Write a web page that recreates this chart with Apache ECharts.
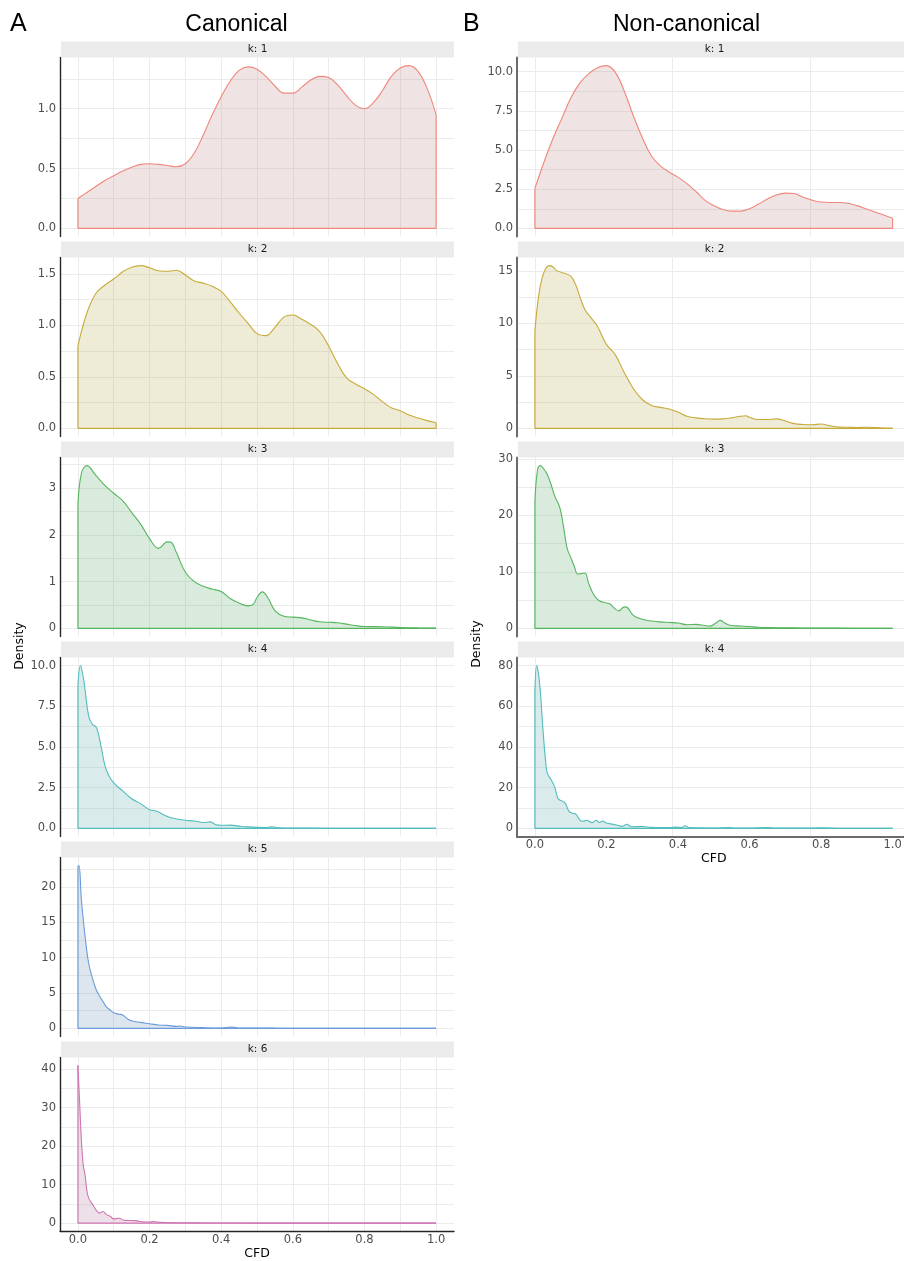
<!DOCTYPE html>
<html><head><meta charset="utf-8">
<script src="https://cdn.jsdelivr.net/npm/echarts@6/dist/echarts.min.js"></script>
<style>html,body{margin:0;padding:0;background:#fff;overflow:hidden}#c{width:912px;height:1261px}</style>
</head><body><div id="c"></div>
<script>
// ---------------- DATA ----------------
const xStep025 = [0,0.025,0.05,0.075,0.1,0.125,0.15,0.175,0.2,0.225,0.25,0.275,0.3,0.325,0.35,0.375,0.4,0.425,0.45,0.475,0.5,0.525,0.55,0.575,0.6,0.625,0.65,0.675,0.7,0.725,0.75,0.775,0.8,0.825,0.85,0.875,0.9,0.925,0.95,0.975,1.0];

// Canonical
const canK1X = xStep025;
const canK1Y = [0.25,0.30,0.35,0.40,0.44,0.48,0.51,0.535,0.54,0.535,0.525,0.515,0.54,0.63,0.78,0.95,1.10,1.23,1.32,1.35,1.33,1.27,1.19,1.13,1.13,1.18,1.24,1.27,1.26,1.20,1.11,1.03,1.00,1.05,1.15,1.27,1.34,1.36,1.31,1.17,0.95];
const canK2X = xStep025;
const canK2Y = [0.80,1.12,1.31,1.39,1.45,1.52,1.565,1.58,1.56,1.53,1.525,1.535,1.49,1.43,1.41,1.38,1.33,1.23,1.12,1.02,0.92,0.90,0.98,1.08,1.10,1.06,1.01,0.94,0.80,0.63,0.49,0.43,0.385,0.33,0.26,0.20,0.17,0.13,0.10,0.075,0.055];
const canK3X = [0,0.01,0.025,0.05,0.075,0.1,0.125,0.15,0.175,0.2,0.225,0.25,0.26,0.275,0.3,0.325,0.35,0.375,0.4,0.425,0.45,0.475,0.49,0.5,0.515,0.53,0.55,0.575,0.6,0.625,0.65,0.675,0.7,0.725,0.75,0.775,0.8,0.85,0.9,0.95,1.0];
const canK3Y = [2.64,3.32,3.48,3.27,3.06,2.89,2.73,2.48,2.23,1.92,1.71,1.85,1.84,1.62,1.20,1.00,0.90,0.84,0.79,0.64,0.54,0.48,0.52,0.66,0.78,0.66,0.38,0.26,0.24,0.225,0.18,0.14,0.13,0.12,0.09,0.06,0.04,0.035,0.02,0.01,0.005];
const canK4X = [0,0.007,0.015,0.02,0.03,0.04,0.05,0.055,0.065,0.075,0.085,0.1,0.125,0.15,0.175,0.2,0.22,0.25,0.275,0.3,0.325,0.35,0.37,0.385,0.4,0.425,0.45,0.475,0.5,0.525,0.54,0.56,0.6,0.7,0.8,0.9,1.0];
const canK4Y = [8.8,10.0,9.3,8.5,6.9,6.4,6.25,6.0,5.0,3.9,3.3,2.8,2.3,1.82,1.52,1.15,1.05,0.73,0.58,0.50,0.45,0.36,0.40,0.22,0.19,0.20,0.14,0.09,0.06,0.05,0.09,0.04,0.02,0.01,0.005,0.004,0.003];
const canK5X = [0,0.003,0.01,0.02,0.03,0.04,0.05,0.06,0.07,0.08,0.09,0.1,0.115,0.125,0.14,0.155,0.175,0.2,0.225,0.25,0.275,0.285,0.3,0.35,0.4,0.43,0.45,0.5,0.55,0.6,0.7,0.8,0.9,1.0];
const canK5Y = [22.9,23.0,18.0,13.0,9.2,7.2,5.6,4.6,3.8,3.0,2.6,2.2,2.0,1.9,1.3,1.0,0.85,0.65,0.48,0.42,0.28,0.33,0.19,0.1,0.06,0.18,0.05,0.05,0.03,0.02,0.015,0.01,0.01,0.01];
const canK6X = [0,0.005,0.01,0.015,0.02,0.025,0.03,0.04,0.05,0.06,0.07,0.08,0.09,0.1,0.115,0.13,0.16,0.18,0.2,0.21,0.23,0.25,0.3,0.35,0.4,0.5,0.6,0.8,1.0];
const canK6Y = [41.0,31.0,21.0,15.0,12.5,8.5,6.5,5.0,3.5,2.6,3.0,2.2,1.8,1.1,1.25,0.7,0.65,0.35,0.25,0.4,0.2,0.15,0.08,0.04,0.02,0.01,0.01,0.005,0.005];

// Non-canonical
const nonK1X = xStep025;
const nonK1Y = [2.54,4.2,5.7,7.0,8.3,9.25,9.85,10.25,10.38,9.95,8.75,7.2,5.8,4.65,4.0,3.6,3.27,2.85,2.35,1.8,1.45,1.2,1.1,1.1,1.25,1.55,1.87,2.13,2.25,2.22,1.98,1.8,1.68,1.65,1.65,1.6,1.45,1.25,1.05,0.85,0.64];
const nonK2X = [0,0.01,0.02,0.03,0.04,0.05,0.06,0.075,0.1,0.115,0.125,0.14,0.16,0.175,0.2,0.225,0.25,0.275,0.3,0.325,0.35,0.375,0.4,0.425,0.45,0.475,0.5,0.525,0.55,0.575,0.59,0.6,0.625,0.65,0.675,0.7,0.725,0.75,0.775,0.8,0.825,0.85,0.875,0.9,0.925,0.95,0.975,1.0];
const nonK2Y = [9.3,12.5,14.3,15.2,15.5,15.4,15.05,14.85,14.5,13.6,12.6,11.3,10.4,9.7,8.0,7.0,5.3,3.8,2.75,2.2,2.0,1.85,1.55,1.15,1.0,0.92,0.88,0.9,1.0,1.15,1.2,1.05,0.85,0.85,0.9,0.7,0.45,0.37,0.35,0.41,0.25,0.12,0.1,0.08,0.1,0.08,0.03,0.01];
const nonK3X = [0,0.007,0.015,0.025,0.035,0.045,0.055,0.07,0.08,0.09,0.1,0.11,0.12,0.13,0.14,0.15,0.165,0.18,0.2,0.21,0.225,0.235,0.25,0.26,0.275,0.3,0.325,0.35,0.375,0.4,0.425,0.45,0.475,0.49,0.505,0.518,0.53,0.545,0.575,0.6,0.625,0.65,0.7,0.75,0.8,0.9,1.0];
const nonK3Y = [22.3,27.9,28.8,28.2,27.2,25.5,23.5,21.3,18.0,14.2,12.6,11.0,9.6,9.7,9.8,8.0,5.9,4.9,4.5,4.3,3.4,3.1,3.8,3.6,2.3,1.6,1.3,1.15,1.05,0.95,0.65,0.7,0.5,0.4,0.9,1.42,1.0,0.55,0.42,0.33,0.2,0.14,0.1,0.07,0.05,0.03,0.01];
const nonK4X = [0,0.005,0.01,0.015,0.02,0.025,0.03,0.035,0.045,0.055,0.065,0.075,0.085,0.095,0.105,0.115,0.125,0.135,0.145,0.16,0.172,0.18,0.19,0.2,0.225,0.245,0.257,0.27,0.3,0.325,0.35,0.375,0.395,0.41,0.42,0.43,0.45,0.5,0.545,0.56,0.6,0.65,0.67,0.75,0.8,0.85,0.9,1.0];
const nonK4Y = [67,80,76,68,55,43,33,27,24,20.5,14.5,13.5,12.3,8.5,7.4,7.0,4.2,3.5,4.0,2.8,4.0,2.9,3.6,2.6,1.8,1.0,2.0,0.8,0.9,0.5,0.35,0.4,0.6,0.4,1.3,0.4,0.3,0.2,0.45,0.2,0.15,0.4,0.15,0.1,0.25,0.08,0.05,0.03];

// Tick labels
const cfdTicks = [0,0.2,0.4,0.6,0.8,1.0];
const nonGridX = [0,0.385,0.77];
const canK1Ticks = [0,0.5,1.0];
const canK2Ticks = [0,0.5,1.0,1.5];
const canK3Ticks = [0,1,2,3];
const canK4Ticks = [0,2.5,5,7.5,10];
const canK5Ticks = [0,5,10,15,20];
const canK6Ticks = [0,10,20,30,40];
const nonK1Ticks = [0,2.5,5,7.5,10];
const nonK2Ticks = [0,5,10,15];
const nonK3Ticks = [0,10,20,30];
const nonK4Ticks = [0,20,40,60,80];

const panels = [
  {col:0,row:0,k:1,x:canK1X,y:canK1Y,ticks:canK1Ticks,dec:1},
  {col:0,row:1,k:2,x:canK2X,y:canK2Y,ticks:canK2Ticks,dec:1},
  {col:0,row:2,k:3,x:canK3X,y:canK3Y,ticks:canK3Ticks,dec:0},
  {col:0,row:3,k:4,x:canK4X,y:canK4Y,ticks:canK4Ticks,dec:1},
  {col:0,row:4,k:5,x:canK5X,y:canK5Y,ticks:canK5Ticks,dec:0},
  {col:0,row:5,k:6,x:canK6X,y:canK6Y,ticks:canK6Ticks,dec:0,bottom:true},
  {col:1,row:0,k:1,x:nonK1X,y:nonK1Y,ticks:nonK1Ticks,dec:1},
  {col:1,row:1,k:2,x:nonK2X,y:nonK2Y,ticks:nonK2Ticks,dec:0},
  {col:1,row:2,k:3,x:nonK3X,y:nonK3Y,ticks:nonK3Ticks,dec:0},
  {col:1,row:3,k:4,x:nonK4X,y:nonK4Y,ticks:nonK4Ticks,dec:0,bottom:true}
];

// ---------------- STYLE ----------------
const lineColors = ['#EF877C','#C8AA38','#55B55E','#52BCBE','#6A9BDA','#CF74B3'];
const fillColors = ['rgba(198,153,153,0.4)','rgba(193,188,108,0.4)','rgba(118,183,128,0.4)','rgba(118,183,183,0.4)','rgba(133,165,198,0.4)','rgba(193,143,173,0.4)'];
const FONT = 'DejaVu Sans';
const cols = [
  {left:60, width:394, stripW:393, axisColor:'#262626', axisWidth:1.4, labelMargin:4},
  {left:517, width:393.5, stripW:393, axisColor:'#6b6b6b', axisWidth:2, labelMargin:4}
];
const TOP0 = 57.5, PITCH = 200, PH = 179, STRIPH = 16;

function midGrid(t, lo, hi){
  const step = t[1]-t[0];
  const out = [];
  t.forEach(v=>{out.push(v); out.push(+(v+step/2).toFixed(6));});
  return out.filter(v=>v>=lo-1e-9 && v<=hi+1e-9);
}

const grids=[], xAxes=[], yAxes=[], series=[], graphics=[];
panels.forEach((p,i)=>{
  const c = cols[p.col];
  const top = TOP0 + PITCH*p.row;
  grids.push({left:c.left, top:top, width:c.width, height:PH});
  const ymax = Math.max(...p.y);
  const lo = -0.05*ymax, hi = 1.05*ymax;
  const xGrid = p.col===0 ? midGrid(cfdTicks, 0, 1) : nonGridX;
  xAxes.push({
    type:'value', gridIndex:i, min:-0.05, max:1.05,
    axisLine:{show:!!p.bottom, onZero:false, lineStyle:{color:c.axisColor, width:c.axisWidth}},
    axisTick:{show:false, customValues:xGrid},
    axisLabel:{show:!!p.bottom, customValues:cfdTicks, formatter:v=>v.toFixed(1), margin:3, fontSize:11.5, color:'#4d4d4d', fontFamily:FONT},
    splitLine:{show:true, lineStyle:{color:'#ebebeb', width:1}},
    name: p.bottom ? 'CFD' : '', nameLocation:'middle', nameGap:16,
    nameTextStyle:{fontSize:12.5, color:'#000', fontFamily:FONT, verticalAlign:'top'}
  });
  yAxes.push({
    type:'value', gridIndex:i, min:lo, max:hi,
    axisLine:{show:true, onZero:false, lineStyle:{color:c.axisColor, width:c.axisWidth}},
    axisTick:{show:false, customValues:midGrid(p.ticks, lo, hi)},
    axisLabel:{customValues:p.ticks, formatter:v=>v.toFixed(p.dec), margin:c.labelMargin, fontSize:11.5, color:'#4d4d4d', fontFamily:FONT},
    splitLine:{show:true, lineStyle:{color:'#ebebeb', width:1}}
  });
  const lc = lineColors[p.k-1], fc = fillColors[p.k-1];
  series.push({
    type:'line', xAxisIndex:i, yAxisIndex:i, data:p.x.map((x,j)=>[x,p.y[j]]),
    smooth:0.4, showSymbol:false, symbol:'none', silent:true,
    lineStyle:{color:lc, width:1.1}, areaStyle:{color:fc, origin:'auto'}, z:3
  });
  const n = p.x.length-1;
  series.push({
    type:'line', xAxisIndex:i, yAxisIndex:i,
    data:[[p.x[0],p.y[0]],[p.x[0],0],[p.x[n],0],[p.x[n],p.y[n]]],
    showSymbol:false, symbol:'none', silent:true, lineStyle:{color:lc, width:1.1}, z:3
  });
  graphics.push({type:'rect', shape:{x:c.left+1, y:top-STRIPH, width:c.stripW, height:STRIPH}, style:{fill:'#ebebeb'}, z:1});
  graphics.push({type:'text', x:c.left+1+c.stripW/2, y:top-STRIPH/2,
    style:{text:'k: '+p.k, fontSize:10.5, fontFamily:FONT, fill:'#1a1a1a', textAlign:'center', textVerticalAlign:'middle', align:'center', verticalAlign:'middle'}, z:2});
});

const titleFont = 'Liberation Sans';
function txt(x,y,t,size,font,align,rot){
  const o = {type:'text', x:x, y:y, style:{text:t, fontSize:size, fontFamily:font, fill:'#000', textAlign:align, textVerticalAlign:'middle', align:align, verticalAlign:'middle'}};
  if (rot) o.rotation = rot;
  return o;
}
graphics.push(txt(10,24,'A',25,titleFont,'left'));
graphics.push(txt(236.5,24.5,'Canonical',23,titleFont,'center'));
graphics.push(txt(463,24,'B',25,titleFont,'left'));
graphics.push(txt(686.5,24.5,'Non-canonical',23,titleFont,'center'));
graphics.push(txt(20,646,'Density',12.5,FONT,'center',Math.PI/2));
graphics.push(txt(477,644,'Density',12.5,FONT,'center',Math.PI/2));

const chart = echarts.init(document.getElementById('c'), null, {renderer:'canvas'});
chart.setOption({
  animation:false,
  backgroundColor:'#fff',
  grid:grids, xAxis:xAxes, yAxis:yAxes, series:series, graphic:graphics
});
</script></body></html>
